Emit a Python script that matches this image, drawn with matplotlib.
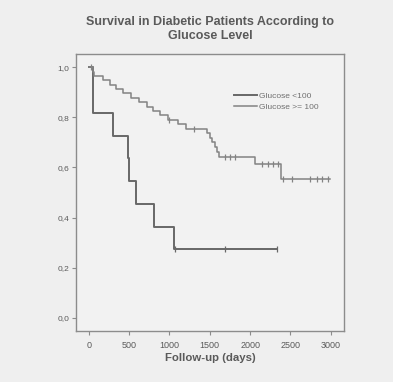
"""
Kaplan-Meier style survival curves for diabetic patients split by glucose level.
"""

import numpy as np
import matplotlib.pyplot as plt

# -- Data ----------------------------------------------------------------------
LOW_TIMES  = [0, 50, 295, 485, 500, 580, 810, 1055, 2330]
LOW_SURV   = [1.0, 0.818, 0.727, 0.636, 0.545, 0.455, 0.364, 0.273, 0.273]
LOW_CENSOR = [1065, 1690, 2330]

HIGH_TIMES = [0, 55, 65, 170, 260, 340, 420, 520, 620, 720, 800, 880, 980,
              1100, 1200, 1470, 1500, 1530, 1560, 1590, 1620, 2060, 2378, 2990]
HIGH_SURV  = [1.0, 0.982, 0.965, 0.947, 0.930, 0.912, 0.895, 0.877, 0.860,
              0.842, 0.825, 0.807, 0.790, 0.772, 0.755, 0.737, 0.718, 0.700,
              0.680, 0.662, 0.643, 0.613, 0.552, 0.552]
HIGH_CENSOR = [20, 1000, 1300, 1687, 1749, 1811, 2142, 2225, 2287, 2349,
               2412, 2515, 2742, 2825, 2887, 2970]

LABELS = ["Glucose <100", "Glucose >= 100"]
TITLE  = "Survival in Diabetic Patients According to\nGlucose Level"

# -- Styling -------------------------------------------------------------------
BG        = "#efefef"
AX_BG     = "#f2f2f2"
SPINE     = "#8c8c8c"
TXT       = "#5a5a5a"
LOW_COL   = "#686868"
HIGH_COL  = "#838383"

plt.rcParams["font.family"] = ["Liberation Sans", "DejaVu Sans"]


def surv_at(times, surv, t):
    idx = np.searchsorted(times, t, side="right") - 1
    return np.asarray(surv)[idx]


def draw_curve(ax, times, surv, censor, color, lw, label):
    ax.step(times, surv, where="post", color=color, linewidth=lw, label=label,
            zorder=3)
    ax.plot(censor, surv_at(times, surv, censor), linestyle="None",
            marker="|", markersize=4, markeredgewidth=0.9, color=color,
            zorder=4)


fig = plt.figure(figsize=(3.93, 3.82), dpi=100, facecolor=BG)
ax = fig.add_axes([0.1934, 0.1335, 0.6819, 0.7251], facecolor=AX_BG)

draw_curve(ax, LOW_TIMES, LOW_SURV, LOW_CENSOR, LOW_COL, 1.4, LABELS[0])
draw_curve(ax, HIGH_TIMES, HIGH_SURV, HIGH_CENSOR, HIGH_COL, 1.1, LABELS[1])

ax.set_xlim(-160, 3165)
ax.set_ylim(-0.052, 1.052)
ax.set_xticks([0, 500, 1000, 1500, 2000, 2500, 3000])
ax.set_yticks([0.0, 0.2, 0.4, 0.6, 0.8, 1.0])
ax.set_yticklabels([f"{v:.1f}".replace(".", ",") for v in ax.get_yticks()])

for sp in ax.spines.values():
    sp.set_color(SPINE)
    sp.set_linewidth(1.0)
ax.tick_params(axis="both", colors=SPINE, labelcolor=TXT, labelsize=6,
               length=3, width=0.8, pad=2)
ax.tick_params(axis="x", pad=4, labelsize=6.5)

ax.set_xlabel("Follow-up (days)", fontsize=8.2, fontweight="bold", color=TXT,
              labelpad=2)
fig.text(0.535, 0.924, TITLE, ha="center", va="center", fontsize=9,
         fontweight="bold", color=TXT, linespacing=1.15)

leg = ax.legend(loc="upper right", bbox_to_anchor=(0.935, 0.89), frameon=False,
                fontsize=6, handlelength=2.8, handletextpad=0.3,
                labelspacing=0.45)
for t in leg.get_texts():
    t.set_color("#707070")

fig.savefig("out.png", dpi=100, facecolor=BG)
